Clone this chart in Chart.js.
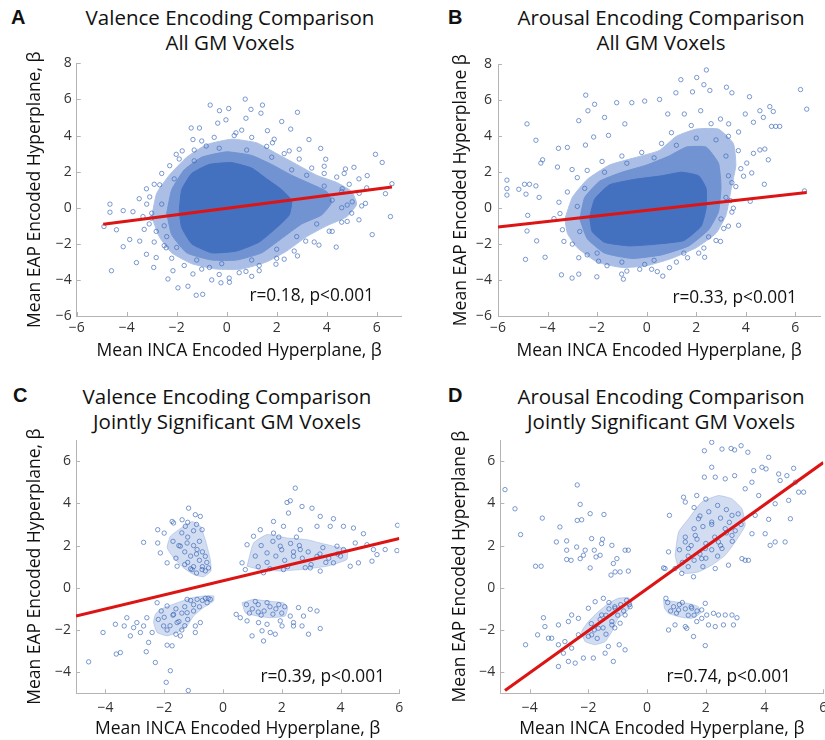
<!DOCTYPE html>
<html lang="en">
<head>
<meta charset="UTF-8" />
<title>Valence / Arousal Encoding Comparison</title>
<script src="https://cdn.jsdelivr.net/npm/chart.js@4"></script>
<style>
  html, body { margin: 0; padding: 0; background: #fff; overflow: hidden; }
  body { width: 825px; height: 740px; position: relative; font-family: "Open Sans", sans-serif; }
  canvas { position: absolute; }
  .ptitle { position: absolute; width: 420px; text-align: center; font-size: 20.5px; line-height: 25px; color: #111; }
  .letter { position: absolute; font-weight: bold; font-size: 20px; color: #111; font-family: "Liberation Sans", Arial, sans-serif; }
  .stat { position: absolute; font-size: 17.3px; color: #111; text-align: right; width: 200px; line-height: 20px; }
</style>
</head>
<body>
<div class="letter" style="left:11px; top:6px;">A</div>
<div class="letter" style="left:448px; top:6px;">B</div>
<div class="letter" style="left:13px; top:384px;">C</div>
<div class="letter" style="left:448px; top:384px;">D</div>

<div class="ptitle" style="left:20px; top:5px;">Valence Encoding Comparison<br>All GM Voxels</div>
<div class="ptitle" style="left:451px; top:5px;">Arousal Encoding Comparison<br>All GM Voxels</div>
<div class="ptitle" style="left:17px; top:384px;">Valence Encoding Comparison<br>Jointly Significant GM Voxels</div>
<div class="ptitle" style="left:451px; top:384px;">Arousal Encoding Comparison<br>Jointly Significant GM Voxels</div>

<canvas id="chartA" width="412" height="320" style="left:0px; top:50px;"></canvas>
<canvas id="chartB" width="413" height="320" style="left:412px; top:50px;"></canvas>
<canvas id="chartC" width="412" height="320" style="left:0px; top:420px;"></canvas>
<canvas id="chartD" width="425" height="320" style="left:412px; top:420px;"></canvas>

<div class="stat" style="left:174px; top:285px;">r=0.18, p&lt;0.001</div>
<div class="stat" style="left:597px; top:287px;">r=0.33, p&lt;0.001</div>
<div class="stat" style="left:185px; top:666px;">r=0.39, p&lt;0.001</div>
<div class="stat" style="left:591px; top:666px;">r=0.74, p&lt;0.001</div>

<script>
// ---- Panel A: valence, all GM voxels ----
const aTicksX = [-6, -4, -2, 0, 2, 4, 6];
const aTicksY = [-6, -4, -2, 0, 2, 4, 6, 8];
const aOuter = [[-3.0,-0.5],[-2.8,0.8],[-2.3,1.8],[-1.6,2.8],[-0.8,3.5],[0.2,3.8],[1.2,3.6],[2.0,3.0],[2.8,2.4],[3.6,1.8],[4.4,1.4],[5.0,0.9],[5.2,0.2],[4.8,-0.5],[4.0,-1.0],[3.2,-1.6],[2.4,-2.4],[1.6,-3.0],[0.6,-3.4],[-0.4,-3.4],[-1.4,-3.1],[-2.2,-2.5],[-2.7,-1.6]];
const aMid = [[-2.4,-0.3],[-2.2,1.0],[-1.7,2.1],[-1.0,2.8],[0.0,3.1],[1.0,2.9],[1.8,2.4],[2.6,1.8],[3.4,1.3],[4.0,0.9],[4.2,0.3],[3.8,-0.4],[3.0,-0.9],[2.2,-1.7],[1.4,-2.5],[0.4,-2.9],[-0.6,-2.9],[-1.6,-2.5],[-2.2,-1.5]];
const aCore = [[-1.9,-0.2],[-1.8,1.0],[-1.4,1.9],[-0.7,2.4],[0.2,2.5],[1.0,2.2],[1.6,1.6],[2.2,1.0],[2.6,0.4],[2.5,-0.4],[2.0,-1.1],[1.3,-1.9],[0.4,-2.4],[-0.6,-2.5],[-1.4,-2.0],[-1.8,-1.1]];
const aPts = [[-0.66,5.69],[0.74,6.02],[1.43,5.69],[-0.29,5.38],[0.08,5.5],[2.83,5.29],[0.97,5.45],[1.37,5.24],[0.77,4.96],[2.2,4.78],[-0.03,4.87],[-1.42,4.42],[-1.09,4.42],[-0.36,4.69],[2.56,4.36],[1.63,4.27],[0.37,4.15],[-1.78,3.15],[3.76,3.29],[2.9,3.24],[5.95,2.96],[5.09,2.24],[6.22,2.51],[5.62,1.78],[6.61,1.33],[6.35,0.78],[6.55,-0.49],[5.82,-1.49],[5.29,-0.67],[4.82,-0.76],[4.38,-2.18],[3.69,-2.07],[2.83,-2.67],[2.3,-2.85],[0.77,-3.53],[0.11,-4.13],[-0.23,-4.16],[-0.96,-4.8],[-1.22,-4.85],[-1.55,-4.35],[-1.95,-4.44],[-2.35,-3.95],[-2.92,-3.31],[-3.61,-3.04],[-4.61,-3.49],[-4.14,-2.16],[-3.88,-1.76],[-4.41,-1.22],[-4.91,-1.04],[-4.67,0.2],[-4.67,-0.25],[-4.14,-0.16],[-3.75,-0.22],[-3.35,-0.49],[-3.08,0.6],[-3.21,1.05],[-2.68,1.27],[-2.28,2.33],[-2.02,2.96],[-3.48,-1.85],[-3.21,-2.58],[-2.82,-2.76],[-2.15,-3.49],[-1.35,-3.67],[-0.69,-3.31],[1.3,-3.49],[1.97,-3.13],[4.22,0.42],[4.62,1.05],[5.02,0.33],[5.55,0.24],[3.96,2.69],[4.75,2.15],[1.83,3.6],[2.5,3.15],[3.29,3.78],[-0.82,3.42],[-1.35,3.78],[-3.01,-0.58],[-2.82,-1.31],[-2.42,-2.22],[3.16,-1.85],[4.22,-1.31],[4.82,0.15],[5.29,1.6],
  [-3.2,0.2],[-3.1,-0.9],[-2.9,1.3],[-2.6,1.9],[-2.5,-2.1],[-2.9,-1.9],[-3.3,-1.2],[-3.5,0.5],[-3.0,-0.3],[-1.9,2.7],[-1.3,3.2],[-0.5,3.9],[0.3,4.0],[1.0,3.9],[1.6,3.4],[2.3,3.0],[2.9,2.7],[3.4,2.2],[-1.0,3.7],[0.6,4.3],[1.9,3.8],[3.9,1.9],[4.4,1.7],[4.9,1.3],[5.3,0.8],[5.4,0.1],[5.0,-0.3],[4.6,-0.8],[4.1,-1.3],[3.5,-1.9],[3.9,2.3],[4.7,1.9],[5.6,1.1],[2.7,-2.4],[2.0,-2.8],[1.3,-3.2],[0.5,-3.6],[-0.3,-3.7],[-1.0,-3.4],[-1.7,-3.2],[-2.2,-2.8],[0.1,-3.9],[-0.6,-4.0],[1.0,-3.8],
  [-2.6,0.2],[-2.5,-1.0],[-2.1,1.6],[-1.3,2.6],[-0.3,3.3],[0.8,3.2],[1.8,2.8],[2.6,2.1],[3.2,1.8],[3.9,1.2],[4.6,0.9],[4.6,0.0],[3.6,-0.9],[2.8,-1.6],[2.0,-2.3],[1.0,-2.9],[-0.2,-3.1],[-1.2,-2.9],[-2.0,-2.2],[-2.4,-1.6]];
const aFitX = [-4.94, 6.61];
const aFitY = [-0.91, 1.15];

// ---- Panel B: arousal, all GM voxels ----
const bTicksX = [-6, -4, -2, 0, 2, 4, 6];
const bTicksY = [-6, -4, -2, 0, 2, 4, 6, 8];
const bOuter = [[-3.3,-0.6],[-3.0,0.6],[-2.4,1.6],[-1.5,2.4],[-0.5,2.8],[0.5,3.2],[1.2,4.0],[2.0,4.4],[2.9,4.4],[3.5,3.6],[3.6,2.4],[3.4,1.0],[3.2,-0.4],[2.8,-1.4],[2.0,-2.2],[1.0,-2.8],[0.0,-3.2],[-1.0,-3.3],[-2.0,-3.0],[-2.8,-2.2],[-3.2,-1.4]];
const bMid = [[-2.7,-0.6],[-2.5,0.6],[-1.9,1.5],[-1.0,2.0],[0.0,2.4],[0.9,2.9],[1.6,3.4],[2.4,3.4],[2.9,2.5],[3.0,1.2],[2.9,-0.2],[2.5,-1.2],[1.7,-2.1],[0.6,-2.6],[-0.6,-2.8],[-1.7,-2.5],[-2.4,-1.7]];
const bCore = [[-2.3,-0.5],[-2.1,0.5],[-1.5,1.3],[-0.5,1.6],[0.6,1.8],[1.4,2.0],[2.1,1.8],[2.4,1.1],[2.4,0.0],[2.2,-1.0],[1.5,-1.8],[0.4,-2.0],[-0.7,-2.1],[-1.7,-1.9],[-2.2,-1.3]];
const bPts = [[2.41,7.69],[2.02,7.27],[1.38,7.15],[2.31,6.87],[3.22,6.73],[6.21,6.6],[3.44,6.42],[2.55,6.55],[1.85,6.47],[1.18,6.42],[4.15,6.2],[6.46,5.51],[0.52,6.05],[-0.08,5.96],[-0.6,5.87],[-1.21,5.87],[-2.1,5.78],[-2.46,6.29],[-2.37,5.42],[-1.7,5.05],[-2.74,4.87],[-4.83,4.69],[-4.47,3.78],[-3.56,3.33],[-3.2,3.38],[-4.2,2.69],[-4.27,2.51],[-3.6,2.29],[-5.64,1.56],[-5.64,1.09],[-5.64,0.73],[-4.93,1.33],[-4.73,1.33],[-4.47,1.24],[-4.87,0.78],[-5.16,1.05],[-4.34,0.6],[-4.8,-0.4],[-4.83,-1.27],[-4.44,-1.82],[-4.1,-2.73],[-4.89,-2.85],[-3.44,-3.71],[-3.01,-3.89],[-2.74,-3.67],[-2.01,-3.82],[-0.94,-3.95],[-1.01,-3.67],[-0.28,-3.4],[0.43,-3.53],[0.65,-3.78],[0.92,-3.31],[2.34,-2.73],[2.31,-2.22],[2.98,-1.85],[3.71,-0.95],[3.44,-0.22],[4.18,0.38],[4.75,1.33],[4.91,2.69],[4.77,3.29],[4.57,3.24],[4.31,3.05],[5.37,4.55],[5.21,4.55],[5.04,4.55],[4.97,5.65],[4.57,5.42],[5.11,5.38],[4.71,5.05],[3.98,5.24],[4.31,4.78],[6.37,0.96],[4.04,2.51],[4.24,1.96],[3.91,1.78],[3.44,1.42],[3.71,4.24],[3.31,4.69],[2.98,4.96],[2.18,5.42],[1.52,5.24],[0.85,5.24],[-0.88,4.69],[-1.54,4.05],[-2.14,3.96],[-2.47,3.51],[-3.01,2.15],[-3.54,0.33],[-3.74,-0.58],[-3.34,-1.85],[-2.74,-2.76],[-1.94,-2.95],[-0.08,-3.13],[1.65,-2.76],[3.11,-1.13],[3.38,0.42],
  [-3.5,-0.3],[-3.4,-1.2],[-3.2,0.9],[-2.8,1.7],[-3.0,-2.0],[-2.4,-2.6],[-1.6,-3.2],[-0.8,-3.5],[0.2,-3.4],[1.2,-3.0],[2.1,-2.5],[2.8,-1.8],[3.3,-1.0],[3.5,0.0],[3.6,1.2],[3.8,2.2],[3.7,3.2],[3.3,4.0],[2.6,4.7],[1.8,4.6],[1.0,4.2],[0.6,3.6],[-0.2,3.1],[-1.0,2.9],[-1.8,2.6],[-2.4,2.1],
  [-2.8,0.1],[-2.5,1.1],[-2.7,-1.3],[-2.0,-2.5],[-1.0,-3.0],[0.3,-2.9],[1.5,-2.5],[2.5,-1.6],[3.0,-0.6],[3.2,0.6],[3.3,1.8],[3.2,2.9],[2.8,3.8],[2.0,3.9],[1.2,3.5],[0.3,2.8],[-0.8,2.5],[-1.7,2.0]];
const bFitX = [-6, 6.46];
const bFitY = [-1.05, 0.87];

// ---- Panel C: valence, jointly significant voxels ----
const cTicksX = [-4, -2, 0, 2, 4, 6];
const cTicksY = [-4, -2, 0, 2, 4, 6];
const cBlobUL = [[-1.51,2.75],[-1.05,3.14],[-0.77,2.91],[-0.6,2.28],[-0.43,1.34],[-0.41,0.79],[-0.66,0.52],[-1.0,0.63],[-1.34,0.94],[-1.68,1.42],[-1.9,1.89],[-1.79,2.44]];
const cBlobLL = [[-2.13,-1.02],[-1.56,-0.71],[-1.05,-0.47],[-0.66,-0.39],[-0.32,-0.39],[-0.32,-0.63],[-0.66,-0.94],[-1.0,-1.34],[-1.22,-1.81],[-1.56,-2.12],[-1.9,-2.28],[-2.24,-2.12],[-2.36,-1.65],[-2.3,-1.26]];
const cBlobUR = [[0.82,1.02],[1.04,2.12],[1.5,2.52],[2.18,2.36],[2.86,2.28],[3.31,2.12],[3.76,1.97],[4.22,1.81],[4.22,1.34],[3.54,1.02],[2.63,0.86],[1.95,0.79],[1.27,0.86]];
const cBlobLR = [[0.65,-0.71],[1.04,-0.55],[1.5,-0.63],[2.06,-0.71],[2.2,-0.94],[2.12,-1.34],[1.61,-1.42],[1.16,-1.34],[0.76,-1.18]];
const cPts = [
  [-1.17,3.77],[-0.94,3.46],[-1.39,3.22],[-2.22,2.75],[-2.7,2.15],[-2.22,2.12],[-2.0,2.59],[-1.73,3.14],[-0.71,2.75],[-0.77,3.38],[-2.13,1.65],[-1.9,1.18],[-1.56,1.02],[-0.49,0.94],[-1.22,2.12],[-0.88,1.81],[-1.05,0.86],[-0.6,1.49],[-1.45,1.97],[-0.71,0.86],[-1.28,2.91],[-1.68,3.07],
  [-1.2,1.2],[-1.0,1.0],[-0.8,1.3],[-0.7,1.0],[-0.9,1.6],[-1.1,1.5],[-1.3,1.7],[-1.5,2.0],[-1.2,2.4],[-1.0,2.0],[-0.8,2.2],[-1.4,2.6],[-1.6,1.4],[-0.6,0.8],[-0.9,0.7],[-1.1,0.9],[-0.55,1.2],[-1.3,1.1],[-1.7,2.2],[-1.0,2.7],[-0.7,1.7],[-1.2,3.1],[-0.9,3.0],
  [-4.57,-3.51],[-4.08,-2.12],[-3.63,-3.14],[-3.49,-3.07],[-3.66,-1.73],[-3.27,-1.42],[-3.36,-1.81],[-3.15,-2.28],[-2.93,-1.65],[-2.81,-2.12],[-2.61,-3.03],[-2.53,-2.59],[-2.3,-3.54],[-1.93,-4.48],[-1.79,-3.93],[-1.18,-4.87],[-1.9,-2.72],[-1.73,-2.75],[-1.45,-2.28],[-0.94,-2.12],[-0.94,-1.81],[-0.77,-1.65],[-2.59,-1.42],[-2.7,-1.81],[-2.41,-2.12],[-3.04,-1.89],[-2.24,-0.71],[-1.9,-0.86],[-1.22,-0.55],[-0.88,-0.55],[-0.54,-0.71],[-0.43,-0.55],[-1.56,-1.65],[-1.22,-1.18],[-2.02,-1.81],[-1.68,-1.26],
  [-1.6,-1.0],[-1.3,-0.9],[-1.0,-0.8],[-0.7,-0.6],[-0.5,-0.5],[-1.4,-1.2],[-1.7,-1.3],[-2.0,-1.4],[-1.2,-1.5],[-1.5,-1.6],[-1.8,-1.8],[-1.4,-2.0],[-2.1,-1.1],[-1.0,-1.1],[-0.8,-0.9],[-1.9,-2.0],[-1.6,-2.2],[-1.1,-0.6],[-0.6,-0.5],[-2.2,-1.5],[-1.3,-1.8],
  [2.46,4.72],[2.18,4.04],[2.29,4.12],[2.69,3.85],[3.03,3.77],[2.23,3.54],[3.76,3.27],[3.31,3.38],[3.65,2.91],[4.1,2.91],[4.44,2.83],[4.78,2.56],[5.94,2.96],[5.92,1.76],[5.52,1.81],[5.12,1.81],[4.9,2.04],[5.24,1.57],[5.07,1.26],[4.61,1.18],[4.33,1.02],[4.1,1.81],[3.88,1.97],[1.72,3.14],[1.27,2.75],[1.72,2.59],[2.06,2.91],[0.82,2.04],[1.04,2.44],[0.65,1.18],[0.76,0.86],[1.38,0.71],[2.06,0.86],[2.97,0.94],[3.31,0.79],[3.76,1.18],[3.2,2.91],[2.63,2.75],[1.5,1.65],[2.4,1.49],[3.2,1.49],[2.63,1.81],[1.95,1.97],[4.5,2.12],
  [1.2,1.0],[1.5,1.2],[1.8,1.5],[2.1,1.3],[2.4,1.7],[2.7,1.4],[3.0,1.1],[3.3,1.6],[3.6,1.4],[3.9,1.6],[1.3,2.0],[1.7,2.2],[2.0,1.8],[2.3,2.1],[2.6,2.0],[2.9,1.7],[3.4,1.9],[1.1,1.5],[1.6,0.9],[2.2,1.0],[2.8,0.95],[3.5,1.2],[4.0,1.5],[1.9,2.4],[2.5,2.4],
  [0.45,-1.26],[0.99,-2.28],[1.33,-2.04],[1.38,-2.52],[1.61,-2.12],[1.78,-2.2],[1.21,-1.65],[1.5,-1.73],[2.01,-1.81],[2.29,-1.34],[2.4,-1.65],[2.57,-0.94],[2.74,-1.34],[2.97,-1.02],[3.2,-1.1],[3.31,-1.93],[2.91,-2.2],[2.69,-1.81],[2.4,-1.81],[1.95,-1.57],[0.82,-1.57],[0.59,-1.42],
  [0.8,-0.8],[1.0,-1.0],[1.2,-0.8],[1.4,-1.1],[1.6,-0.9],[1.8,-1.0],[2.0,-1.2],[1.3,-1.3],[1.7,-1.25],[0.9,-1.2],[1.1,-0.65],[1.5,-0.7],[1.9,-0.8],[2.1,-0.9],[1.2,-1.15]
];
const cFitX = [-5, 6];
const cFitY = [-1.34, 2.33];

// ---- Panel D: arousal, jointly significant voxels ----
const dTicksX = [-4, -2, 0, 2, 4, 6];
const dTicksY = [-4, -2, 0, 2, 4, 6];
const dBlobUR = [[0.95,1.54],[1.07,2.64],[1.41,3.27],[1.86,4.06],[2.43,4.37],[2.89,4.21],[3.23,3.74],[3.34,2.96],[3.0,2.17],[2.66,1.54],[2.2,1.07],[1.75,0.75],[1.3,0.68],[1.07,0.91]];
const dBlobLL = [[-1.66,-1.13],[-1.32,-0.74],[-0.98,-0.5],[-0.64,-0.47],[-0.52,-0.66],[-0.64,-1.05],[-0.98,-1.45],[-1.2,-2.08],[-1.43,-2.55],[-1.77,-2.7],[-2.11,-2.55],[-2.23,-2.08],[-2.0,-1.6]];
const dBlobLR = [[0.56,-0.58],[0.95,-0.66],[1.41,-0.74],[1.75,-0.9],[1.81,-1.21],[1.52,-1.45],[1.07,-1.37],[0.73,-1.21],[0.59,-0.97]];
const dPts = [
  [2.2,6.89],[1.95,6.49],[2.55,6.57],[2.86,6.6],[3.2,6.73],[2.98,6.53],[3.43,6.42],[4.14,6.18],[2.2,5.71],[1.95,5.24],[3.91,5.71],[4.05,5.63],[3.63,5.55],[4.48,5.39],[4.99,5.66],[4.76,5.31],[5.05,5.0],[4.53,5.08],[5.16,4.53],[5.33,4.53],[4.82,4.14],[4.36,3.98],[4.14,3.24],[4.88,3.27],[4.7,2.17],[4.36,2.17],[4.19,2.01],[4.02,2.56],[3.57,2.56],[3.34,1.3],[3.45,1.3],[3.23,1.38],[2.77,1.07],[2.55,1.86],[2.32,0.91],[1.58,0.52],[1.18,0.68],[0.95,0.91],[0.73,1.7],[0.61,0.91],[0.56,0.94],[0.76,3.43],[1.24,4.29],[1.3,4.06],[1.69,4.37],[2.32,5.24],[2.66,5.16],[2.98,5.31],[3.57,5.0],[3.34,4.69],[3.8,4.37],[2.89,3.43],[3.68,3.43],[1.64,2.48],[1.98,1.86],[1.41,1.86],[2.2,3.11],[2.66,2.8],[1.86,1.38],[1.3,2.17],[2.89,2.48],[2.43,2.17],[1.75,3.27],
  [1.2,1.2],[1.4,1.5],[1.6,1.3],[1.8,1.6],[2.0,1.4],[2.2,1.8],[1.5,2.0],[1.7,2.3],[2.0,2.1],[2.3,2.4],[2.5,2.0],[2.7,2.6],[1.3,2.4],[1.6,2.8],[1.9,2.9],[2.2,3.0],[2.5,3.3],[2.8,3.1],[3.0,2.7],[2.1,3.6],[2.4,3.9],[2.7,3.7],[1.8,3.4],[3.1,3.5],[1.1,1.8],[1.4,1.0],[1.9,1.0],[2.4,1.5],[2.9,2.2],[1.6,3.8],[3.2,3.0],[2.0,4.2],
  [-4.14,-2.7],[-3.73,-2.23],[-3.53,-1.42],[-3.48,-1.84],[-3.36,-2.39],[-3.02,-2.7],[-3.02,-3.73],[-2.68,-3.49],[-2.45,-3.57],[-2.85,-3.1],[-2.57,-2.86],[-2.17,-3.33],[-1.83,-3.33],[-1.43,-3.1],[-1.15,-3.49],[-0.75,-2.94],[-0.95,-2.7],[-1.32,-2.78],[-3.02,-1.76],[-2.68,-1.6],[-2.57,-1.29],[-2.34,-1.45],[-2.0,-0.97],[-1.77,-0.66],[-1.66,-1.92],[-1.89,-2.23],[-1.2,-1.76],[-0.92,-1.68],[-0.75,-1.29],[-0.58,-0.9],[-3.25,-2.39],[-2.8,-2.55],[-2.34,-2.23],[-1.49,-0.5],[-1.09,-0.97],[-1.55,-1.29],
  [-0.7,-0.6],[-0.9,-0.8],[-1.1,-0.9],[-1.3,-1.0],[-0.8,-1.1],[-1.0,-1.3],[-1.4,-1.3],[-1.6,-1.5],[-1.2,-1.6],[-1.5,-1.9],[-1.8,-2.0],[-2.0,-2.3],[-1.7,-2.4],[-1.4,-2.2],[-1.9,-1.7],[-1.1,-1.9],[-0.6,-0.8],[-1.3,-0.7],
  [-4.84,4.65],[-4.5,3.74],[-4.31,2.52],[-3.8,1.02],[-3.61,1.02],[-3.57,3.3],[-2.97,2.88],[-3.09,2.17],[-2.74,2.22],[-2.74,1.78],[-2.74,1.34],[-2.59,1.3],[-2.38,4.87],[-2.28,3.95],[-2.23,3.22],[-1.94,3.51],[-1.47,3.47],[-2.4,1.93],[-2.11,1.78],[-2.28,1.38],[-2.17,1.54],[-1.89,2.33],[-1.8,1.78],[-1.74,1.46],[-1.94,0.94],[-1.52,2.3],[-1.55,2.09],[-1.2,2.01],[-1.6,1.54],[-1.03,1.38],[-1.15,1.15],[-1.23,0.6],[-1.09,0.75],[-0.92,0.75],[-0.64,0.79],[-0.75,1.78],[-0.64,1.78],[-2.38,3.19],
  [0.64,-0.5],[0.73,-2.0],[0.95,-1.76],[1.3,-1.84],[1.58,-2.31],[1.35,-1.92],[1.98,-2.74],[1.69,-1.6],[1.86,-1.45],[1.98,-0.74],[2.03,-1.29],[2.26,-1.21],[2.43,-1.29],[2.66,-1.29],[2.89,-1.29],[3.06,-1.42],[2.94,-1.76],[2.6,-1.76],[2.32,-1.84],[2.09,-1.76],[1.86,-1.05],[1.07,-1.05],[1.52,-0.97],
  [0.7,-0.7],[0.9,-0.9],[1.1,-0.8],[1.3,-1.0],[1.5,-0.9],[1.7,-1.1],[1.0,-1.2],[1.4,-1.3],[0.8,-1.1],[1.6,-1.3],[1.2,-0.7]
];
const dFitX = [-4.84, 6];
const dFitY = [-4.87, 5.93];

// ---- shared styling ----
const BLUE = '#4470c0';
const AXIS_GREY = '#b4b4b4';
const LIGHT = '#abbfe6';
const MID = '#7193d2';
const CLUSTER = 'rgba(68,114,196,0.24)';

function xy(pairs) {
  return pairs.map(([x, y]) => ({ x, y }));
}

function blob(pairs, color, order) {
  return {
    data: xy(pairs.concat([pairs[0]])),
    showLine: true,
    fill: 'shape',
    backgroundColor: color,
    borderColor: color,
    borderWidth: 1,
    pointRadius: 0,
    tension: 0.15,
    order: order
  };
}

function scatterSet(pairs) {
  return {
    data: xy(pairs),
    pointRadius: 2.2,
    pointBorderWidth: 0.9,
    borderColor: 'rgba(60,105,185,0.75)',
    backgroundColor: 'rgba(255,255,255,0)',
    order: 1
  };
}

function fitLine(xs, ys) {
  return {
    data: xs.map((x, i) => ({ x, y: ys[i] })),
    showLine: true,
    borderColor: '#dc1414',
    borderWidth: 3,
    pointRadius: 0,
    fill: false,
    order: 0
  };
}

// small inward tick marks like the original axes
const innerTicks = {
  id: 'innerTicks',
  afterDraw(chart) {
    const ctx = chart.ctx;
    const { x, y } = chart.scales;
    const area = chart.chartArea;
    ctx.save();
    ctx.strokeStyle = AXIS_GREY;
    ctx.lineWidth = 1;
    ctx.beginPath();
    x.ticks.forEach(t => {
      const px = Math.round(x.getPixelForValue(t.value)) + 0.5;
      ctx.moveTo(px, area.bottom);
      ctx.lineTo(px, area.bottom - 4);
    });
    y.ticks.forEach(t => {
      const py = Math.round(y.getPixelForValue(t.value)) + 0.5;
      ctx.moveTo(area.left, py);
      ctx.lineTo(area.left + 4, py);
    });
    ctx.stroke();
    ctx.restore();
  }
};

const minus = v => String(v).replace('-', '\u2212');

function makePanel(id, o) {
  new Chart(document.getElementById(id), {
    type: 'scatter',
    data: { datasets: o.datasets },
    options: {
      responsive: false,
      animation: false,
      layout: { padding: o.pad },
      plugins: { legend: { display: false }, tooltip: { enabled: false } },
      scales: {
        x: {
          type: 'linear',
          min: o.xMin, max: o.xMax,
          afterBuildTicks: s => { s.ticks = o.ticksX.map(v => ({ value: v })); },
          afterFit: s => { s.height = o.xH; },
          grid: { display: false, drawTicks: false },
          border: { display: true, color: AXIS_GREY, width: 1 },
          ticks: { padding: o.xTickPad, color: '#333', font: { family: 'Open Sans', size: 14 }, callback: minus, maxRotation: 0 },
          title: { display: true, text: 'Mean INCA Encoded Hyperplane, \u03b2', color: '#111',
                   font: { family: 'Open Sans', size: 17.5 }, padding: { top: 0, bottom: o.xTitlePad } }
        },
        y: {
          type: 'linear',
          min: o.yMin, max: o.yMax,
          afterBuildTicks: s => { s.ticks = o.ticksY.map(v => ({ value: v })); },
          afterFit: s => { s.width = o.yW; },
          grid: { display: false, drawTicks: false },
          border: { display: true, color: AXIS_GREY, width: 1 },
          ticks: { padding: o.yTickPad, color: '#333', font: { family: 'Open Sans', size: 14 }, callback: minus },
          title: { display: true, text: o.yTitle, color: '#111',
                   font: { family: 'Open Sans', size: 17.5 }, padding: { top: o.yTitlePad, bottom: 0 } }
        }
      }
    },
    plugins: [innerTicks]
  });
}

makePanel('chartA', {
  datasets: [fitLine(aFitX, aFitY), scatterSet(aPts), blob(aCore, BLUE, 2), blob(aMid, MID, 3), blob(aOuter, LIGHT, 4)],
  xMin: -6, xMax: 7, yMin: -6, yMax: 8, ticksX: aTicksX, ticksY: aTicksY,
  pad: { top: 9.3, right: 10.3, left: 0, bottom: 0 }, yW: 76.7, xH: 54,
  xTickPad: 4, xTitlePad: 8.5, yTickPad: 5, yTitlePad: 24.5,
  yTitle: 'Mean EAP Encoded Hyperplane, \u03b2'
});

makePanel('chartB', {
  datasets: [fitLine(bFitX, bFitY), scatterSet(bPts), blob(bCore, BLUE, 2), blob(bMid, MID, 3), blob(bOuter, LIGHT, 4)],
  xMin: -6, xMax: 7, yMin: -6, yMax: 8, ticksX: bTicksX, ticksY: bTicksY,
  pad: { top: 9.3, right: 3.7, left: 0, bottom: 0 }, yW: 86, xH: 54,
  xTickPad: 4, xTitlePad: 8.5, yTickPad: 6, yTitlePad: 38.8,
  yTitle: 'Mean EAP Encoded Hyperplane \u03b2'
});

makePanel('chartC', {
  datasets: [fitLine(cFitX, cFitY), scatterSet(cPts), blob(cBlobUL, CLUSTER, 2), blob(cBlobLL, CLUSTER, 2), blob(cBlobUR, CLUSTER, 2), blob(cBlobLR, CLUSTER, 2)],
  xMin: -5, xMax: 6, yMin: -5, yMax: 7, ticksX: cTicksX, ticksY: cTicksY,
  pad: { top: 20, right: 12.7, left: 0, bottom: 0 }, yW: 76, xH: 46.7,
  xTickPad: 6, xTitlePad: 0.2, yTickPad: 5, yTitlePad: 24.5,
  yTitle: 'Mean EAP Encoded Hyperplane, \u03b2'
});

makePanel('chartD', {
  datasets: [fitLine(dFitX, dFitY), scatterSet(dPts), blob(dBlobUR, CLUSTER, 2), blob(dBlobLL, CLUSTER, 2), blob(dBlobLR, CLUSTER, 2)],
  xMin: -5, xMax: 6, yMin: -5, yMax: 7, ticksX: dTicksX, ticksY: dTicksY,
  pad: { top: 20, right: 13.7, left: 0, bottom: 0 }, yW: 88.3, xH: 46.7,
  xTickPad: 6, xTitlePad: 0.2, yTickPad: 5, yTitlePad: 37.8,
  yTitle: 'Mean EAP Encoded Hyperplane \u03b2'
});
</script>
</body>
</html>
